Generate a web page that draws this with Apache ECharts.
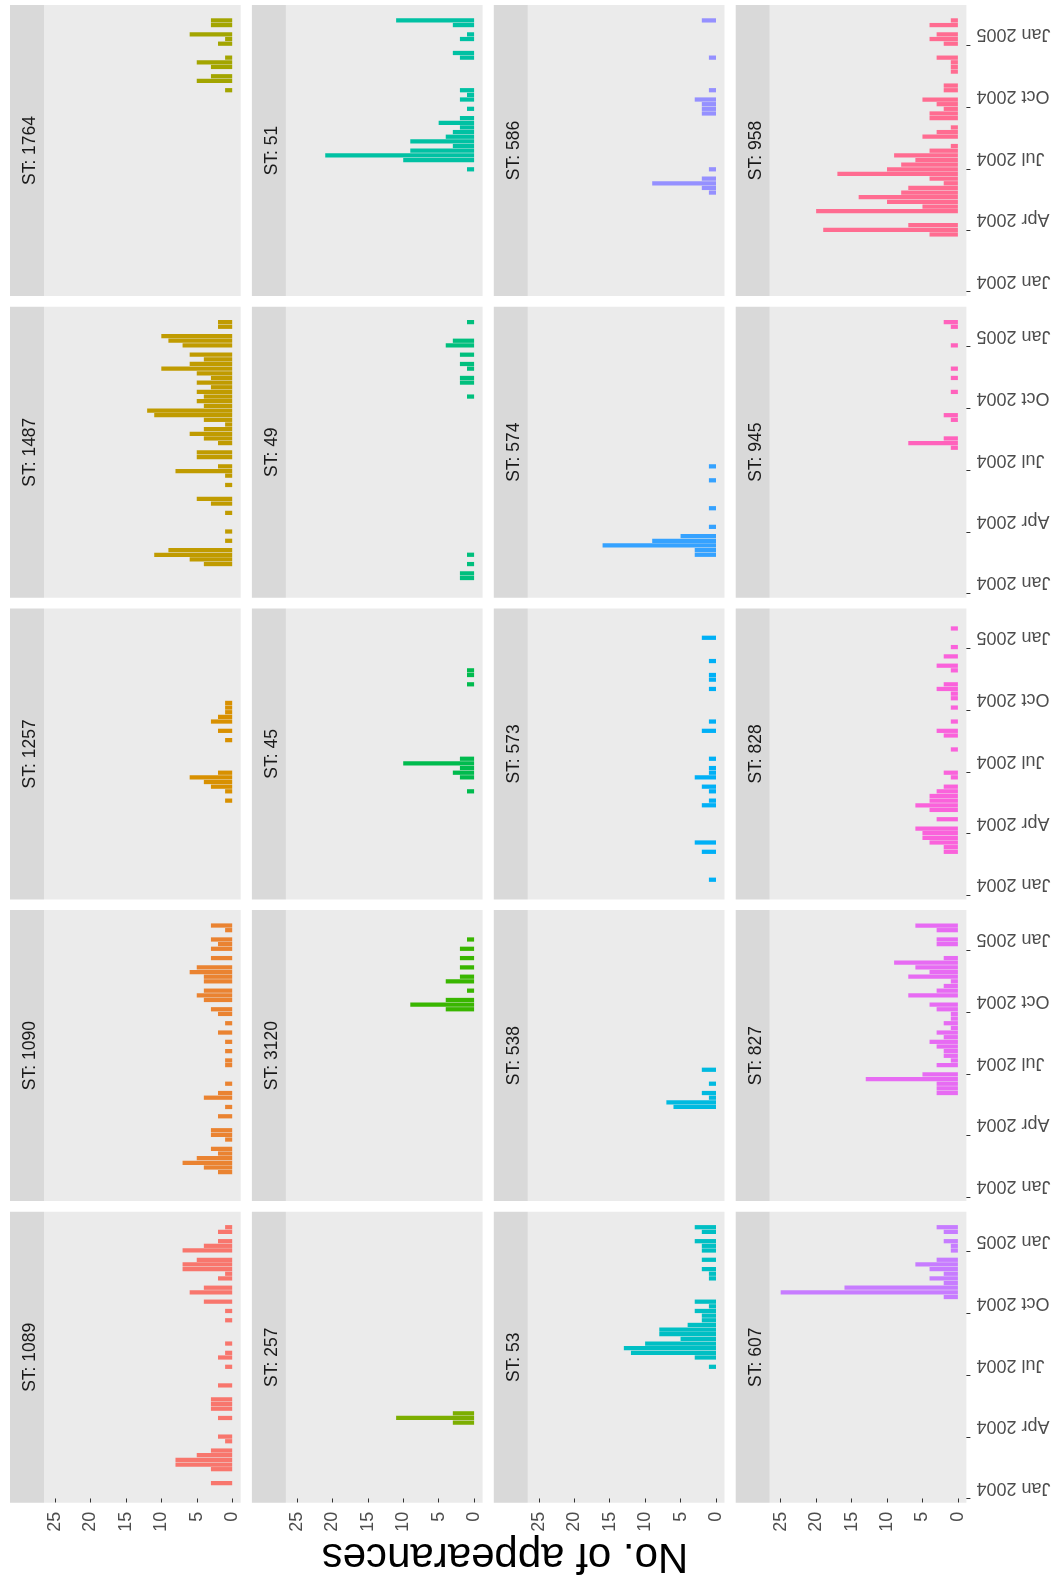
<!DOCTYPE html>
<html><head><meta charset="utf-8">
<script src="https://cdn.jsdelivr.net/npm/echarts@6/dist/echarts.min.js"></script>
<style>html,body{margin:0;padding:0;background:#fff}#c{width:1055px;height:1583px}</style>
</head><body><div id="c"></div>
<script>
// ---- data ----
const facetNames = ['1089','1090','1257','1487','1764','257','3120','45','49','51','53','538','573','574','586','607','827','828','945','958'];
const facetColors = ['#F8766D','#EA8331','#D89000','#C09B00','#A3A500','#7CAE00','#39B600','#00BB4E','#00BF7D','#00C1A3','#00BFC4','#00BAE0','#00B0F6','#35A2FF','#9590FF','#C77CFF','#E76BF3','#FA62DB','#FF62BC','#FF6C91'];
const firstWeek = '2004-01-21'; // centre of first weekly bin
const st1089 = [3,0,0,3,8,8,5,3, 0,1,2,0,0,0,2,0, 3,3,3,0,0,2,0,0, 0,1,0,2,1,0,1,0, 0,0,0,1,0,1,0,4, 0,6,4,0,2,1,7,7, 5,0,7,4,2,0,2,1];
const st1090 = [0,0,2,4,7,5,2,3, 0,1,3,3,0,0,2,0, 1,0,4,2,0,1,0,0, 0,1,1,0,1,0,1,0, 2,0,1,0,2,3,0,4, 5,4,0,4,4,6,5,0, 3,0,3,2,3,0,1,3];
const st1257 = [0,0,0,0,0,0,0,0, 0,0,0,0,0,0,0,0, 0,1,0,1,3,4,6,2, 0,0,0,0,0,0,1,0, 2,0,3,2,1,1,1,0, 0,0,0,0,0,0,0,0, 0,0,0,0,0,0,0,0];
const st1487 = [0,0,0,4,6,11,9,0, 1,0,1,0,0,0,1,0, 3,5,0,0,1,0,1,8, 2,0,5,5,0,2,4,6, 4,1,4,11,12,4,5,4, 5,3,5,3,5,10,6,4, 6,0,7,9,10,0,2,2];
const st1764 = [0,0,0,0,0,0,0,0, 0,0,0,0,0,0,0,0, 0,0,0,0,0,0,0,0, 0,0,0,0,0,0,0,0, 0,0,0,0,0,0,0,0, 1,0,5,3,0,3,5,1, 0,0,2,1,6,0,3,3];
const st257  = [0,0,0,0,0,0,0,0, 0,0,0,0,0,3,11,3, 0,0,0,0,0,0,0,0, 0,0,0,0,0,0,0,0, 0,0,0,0,0,0,0,0, 0,0,0,0,0,0,0,0, 0,0,0,0,0,0,0,0];
const st3120 = [0,0,0,0,0,0,0,0, 0,0,0,0,0,0,0,0, 0,0,0,0,0,0,0,0, 0,0,0,0,0,0,0,0, 0,0,0,0,0,4,9,4, 0,1,0,4,2,0,2,0, 2,0,2,0,1,0,0,0];
const st45   = [0,0,0,0,0,0,0,0, 0,0,0,0,0,0,0,0, 0,0,0,1,0,0,2,3, 2,10,2,0,0,0,0,0, 0,0,0,0,0,0,0,0, 0,0,1,0,1,1,0,0, 0,0,0,0,0,0,0,0];
const st49   = [2,2,0,1,0,1,0,0, 0,0,0,0,0,0,0,0, 0,0,0,0,0,0,0,0, 0,0,0,0,0,0,0,0, 0,0,0,0,0,0,0,1, 0,0,2,2,0,1,2,0, 2,0,4,3,0,0,0,1];
const st51   = [0,0,0,0,0,0,0,0, 0,0,0,0,0,0,0,0, 0,0,0,0,0,0,0,1, 0,10,21,9,3,9,4,3, 2,5,2,0,1,0,2,1, 2,0,0,0,0,0,0,2, 3,0,0,2,1,0,3,11];
const st53   = [0,0,0,0,0,0,0,0, 0,0,0,0,0,0,0,0, 0,0,0,0,0,0,0,0, 0,1,0,3,12,13,10,5, 8,8,4,2,2,3,1,3, 0,0,0,0,1,1,2,0, 2,0,2,2,3,0,2,3];
const st538  = [0,0,0,0,0,0,0,0, 0,0,0,0,0,0,0,0, 6,7,1,2,0,1,0,0, 2,0,0,0,0,0,0,0, 0,0,0,0,0,0,0,0, 0,0,0,0,0,0,0,0, 0,0,0,0,0,0,0,0];
const st573  = [1,0,0,0,0,0,2,0, 3,0,0,0,0,0,0,0, 2,1,0,1,2,0,3,1, 1,0,1,0,0,0,0,0, 2,0,1,0,0,0,0,0, 0,1,0,1,1,0,0,1, 0,0,0,0,2,0,0,0];
const st574  = [0,0,0,0,0,3,3,16, 9,5,0,1,0,0,0,1, 0,0,0,0,0,1,0,0, 1,0,0,0,0,0,0,0, 0,0,0,0,0,0,0,0, 0,0,0,0,0,0,0,0, 0,0,0,0,0,0,0,0];
const st586  = [0,0,0,0,0,0,0,0, 0,0,0,0,0,0,0,0, 0,0,1,2,9,2,0,1, 0,0,0,0,0,0,0,0, 0,0,0,2,2,2,3,0, 1,0,0,0,0,0,0,1, 0,0,0,0,0,0,0,2];
const st607  = [0,0,0,0,0,0,0,0, 0,0,0,0,0,0,0,0, 0,0,0,0,0,0,0,0, 0,0,0,0,0,0,0,0, 0,0,0,0,0,0,0,0, 2,25,16,2,4,2,4,6, 3,0,1,1,2,0,2,3];
const st827  = [0,0,0,0,0,0,0,0, 0,0,0,0,0,0,0,0, 0,0,0,3,3,3,13,5, 0,3,1,2,2,3,4,2, 3,1,2,1,1,3,4,0, 7,3,2,1,7,4,6,9, 2,0,0,3,3,0,3,6];
const st828  = [0,0,0,0,0,0,2,2, 4,5,5,6,0,3,0,4, 6,4,4,3,2,0,1,2, 0,0,0,0,1,0,0,2, 3,0,1,0,0,1,0,1, 1,3,2,0,0,1,3,0, 2,0,1,0,0,0,1,0];
const st945  = [0,0,0,0,0,0,0,0, 0,0,0,0,0,0,0,0, 0,0,0,0,0,0,0,0, 0,0,0,0,1,7,2,0, 0,0,1,2,0,0,0,0, 1,0,0,1,0,1,0,0, 0,0,1,0,0,0,1,2];
const st958  = [0,0,0,0,0,0,0,0, 0,4,19,7,0,0,20,5, 10,14,8,7,2,4,17,10, 8,6,9,4,1,0,5,3, 1,0,4,4,2,3,5,0, 2,2,0,0,1,1,1,3, 0,0,2,4,3,0,4,1];
const facetCounts = [st1089,st1090,st1257,st1487,st1764,st257,st3120,st45,st49,st51,st53,st538,st573,st574,st586,st607,st827,st828,st945,st958];
const valueTicks = [0,5,10,15,20,25];
const dateTicks = ['2004-01-01','2004-04-01','2004-07-01','2004-10-01','2005-01-01'];
const dateTickLabels = ['Jan 2004','Apr 2004','Jul 2004','Oct 2004','Jan 2005'];
const axisTitle = 'No. of appearances';

// ---- layout ----
const DAY = 86400000;
const t0 = Date.parse('2004-01-01T00:00:00Z');
const dMin = -6.4, dMax = 425;            // date extent, days from 1 Jan 2004
const xMin = -1.2, xMax = 26.55;
const colLeft = [10, 251.9, 493.8, 735.7], stripW = 34, panelW = 196.7;
const rowTop = [5, 306.7, 608.4, 910.1, 1211.8], panelH = 291;
const FONT = "'Liberation Sans', Arial, sans-serif";
const dateTickDays = dateTicks.map(d => (Date.parse(d + 'T00:00:00Z') - t0) / DAY);
const week0 = Date.parse(firstWeek + 'T00:00:00Z');

const grids = [], xAxes = [], yAxes = [], series = [], graphics = [];
facetNames.forEach((name, i) => {
  const c = Math.floor(i / 5), r = 4 - (i % 5);
  const left = colLeft[c] + stripW, top = rowTop[r];
  grids.push({ left, top, width: panelW, height: panelH, show: true, backgroundColor: '#EBEBEB', borderWidth: 0 });
  const bottomRow = r === 4, rightCol = c === 3;
  xAxes.push({
    type: 'value', gridIndex: i, min: xMin, max: xMax, inverse: true,
    axisLine: { show: false }, splitLine: { show: false },
    axisTick: { show: bottomRow, length: 4, lineStyle: { color: '#333333', width: 1 }, customValues: valueTicks },
    axisLabel: { show: bottomRow, rotate: 90, margin: 9, fontSize: 18, color: '#4D4D4D', fontFamily: FONT, customValues: valueTicks }
  });
  // hidden time axis carrying the bars
  yAxes.push({ type: 'time', gridIndex: i, min: t0 + dMin * DAY, max: t0 + dMax * DAY, show: false, splitLine: { show: false } });
  // visible day axis for the date ticks
  yAxes.push({
    type: 'value', gridIndex: i, min: dMin, max: dMax, position: 'right',
    axisLine: { show: false }, splitLine: { show: false },
    axisTick: { show: rightCol, length: 4, lineStyle: { color: '#333333', width: 1 }, customValues: dateTickDays },
    axisLabel: { show: rightCol, rotate: 180, margin: 10, fontSize: 18, lineHeight: 22, verticalAlign: 'top', color: '#4D4D4D', fontFamily: FONT, customValues: dateTickDays,
      formatter: v => { const k = dateTickDays.findIndex(t => Math.abs(t - v) < 0.5); return k >= 0 ? dateTickLabels[k] : ''; } }
  });
  const data = [];
  facetCounts[i].forEach((n, k) => { if (n > 0) data.push([n, week0 + k * 7 * DAY]); });
  series.push({ type: 'bar', xAxisIndex: i, yAxisIndex: 2 * i, data, barWidth: 4.25, itemStyle: { color: facetColors[i] }, silent: true });
  graphics.push({ type: 'rect', shape: { x: colLeft[c], y: top, width: stripW, height: panelH }, style: { fill: '#D9D9D9' }, silent: true });
  graphics.push({ type: 'text', x: colLeft[c] + stripW / 2 + 3, y: top + panelH / 2, rotation: Math.PI / 2,
    style: { text: 'ST: ' + name, fontSize: 17.5, fontFamily: FONT, fill: '#1A1A1A', align: 'center', verticalAlign: 'middle', textAlign: 'center', textVerticalAlign: 'middle' }, silent: true });
});
graphics.push({ type: 'text', x: 505, y: 1556, rotation: Math.PI,
  style: { text: axisTitle, fontSize: 42, fontFamily: FONT, fill: '#000000', align: 'center', verticalAlign: 'middle', textAlign: 'center', textVerticalAlign: 'middle' }, silent: true });

const chart = echarts.init(document.getElementById('c'), null, { renderer: 'canvas' });
chart.setOption({ animation: false, backgroundColor: '#FFFFFF', grid: grids, xAxis: xAxes, yAxis: yAxes, series, graphic: graphics });
</script></body></html>
